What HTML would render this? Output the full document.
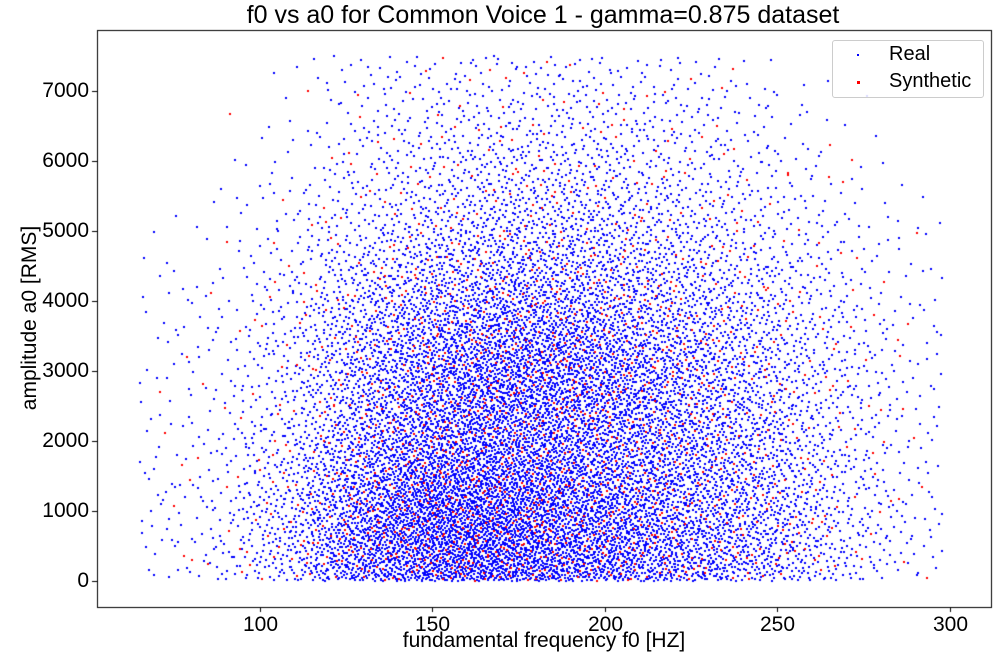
<!DOCTYPE html>
<html><head><meta charset="utf-8">
<style>
body{margin:0;background:#fff;width:999px;height:657px;overflow:hidden;font-family:"Liberation Sans","DejaVu Sans",sans-serif;}
#wrap{position:relative;width:999px;height:657px;}
canvas{position:absolute;left:0;top:0;}
.t{position:absolute;color:#000;white-space:nowrap;}
</style></head>
<body>
<div id="wrap">
<canvas id="c" width="999" height="657"></canvas>
<div class="t" style="left:0;width:1086px;top:1px;text-align:center;font-size:25px;">f0 vs a0 for Common Voice 1 - gamma=0.875 dataset</div>
<div class="t" style="left:97px;width:894px;top:629px;text-align:center;font-size:21px;">fundamental frequency f0 [HZ]</div>
<div class="t" style="left:-80px;top:306px;width:220px;text-align:center;font-size:21px;transform:rotate(-90deg);">amplitude a0 [RMS]</div>
<div id="ticks"></div>
<div style="position:absolute;left:832px;top:40px;width:150px;height:56px;border:1px solid #ccc;border-radius:3px;background:rgba(255,255,255,0.85);">
 <div style="position:absolute;left:0;top:0;width:150px;height:28px;">
  <div style="position:absolute;left:24px;top:13px;width:2px;height:2px;background:#00f;"></div>
  <div class="t" style="left:56px;top:2px;font-size:20px;">Real</div></div>
 <div style="position:absolute;left:0;top:28px;width:150px;height:28px;">
  <div style="position:absolute;left:24px;top:12px;width:3px;height:3px;background:#f00;"></div>
  <div class="t" style="left:56px;top:1px;font-size:20px;">Synthetic</div></div>
</div>
</div>
<script>
// density levels at cell centres (rows: a0 7000-7500 at top down to 0-500; cols: f0 20 Hz bins from 60)
const f0Bins=[60,80,100,120,140,160,180,200,220,240,260,280,300];
const a0Bins=[7500,7000,6500,6000,5500,5000,4500,4000,3500,3000,2500,2000,1500,1000,500,0];
const realDensity=[
[0,0,0.1,0.4,0.6,0.6,0.6,0.5,0.4,0.1,0,0],
[0,0,0.1,0.5,0.8,1,1,0.8,0.6,0.3,0.1,0],
[0,0,0.2,0.6,1,1.3,1.3,1.1,0.8,0.4,0.1,0],
[0,0.05,0.3,0.8,1.3,1.8,1.8,1.4,1,0.6,0.2,0.05],
[0.05,0.1,0.4,1,1.8,2.3,2.3,1.8,1.3,0.8,0.3,0.1],
[0.1,0.15,0.6,1.5,2.5,3,3,2.5,1.8,1,0.4,0.15],
[0.15,0.2,0.8,2.2,3.5,4.2,4,3.2,2.3,1.4,0.6,0.2],
[0.2,0.3,1,3,4.5,5.5,5,4,3,1.8,0.8,0.25],
[0.2,0.3,1.2,3.5,5.5,7,6.5,5,3.5,2,0.9,0.3],
[0.2,0.35,1.3,3.8,6,7.5,7,5.5,3.8,2.2,1,0.3],
[0.2,0.4,1.5,4,6.5,7,6.5,5.5,4,2.5,1,0.3],
[0.25,0.5,1.8,5,7.5,7.5,6.5,5.5,4.2,2.7,1.1,0.35],
[0.3,0.6,2.2,6,9,9,7.5,6,4.5,3,1.2,0.4],
[0.3,0.7,2.5,7,10,10,8,6.5,5,3.2,1.3,0.4],
[0.3,0.7,2.5,6.5,9,9.5,8,6.5,5,3.2,1.3,0.4]];
const pointsPerLevel=[38];
const syntheticShare=[0.1];
const f0Range=[65,298];
const a0Range=[0,7500];
const xTicks=[100,150,200,250,300];
const yTicks=[0,1000,2000,3000,4000,5000,6000,7000];

const L=97,R=991,T=30,B=607;
const xMin=52.8,xMax=311.9,yMin=-371,yMax=7871;
const X=v=>L+(v-xMin)/(xMax-xMin)*(R-L);
const Y=v=>B-(v-yMin)/(yMax-yMin)*(B-T);

const cv=document.getElementById('c'),ctx=cv.getContext('2d');
ctx.fillStyle='#fff';ctx.fillRect(0,0,999,657);
function halton(i,b){let f=1,r=0;while(i>0){f/=b;r+=f*(i%b);i=Math.floor(i/b);}return r;}
const nc=realDensity[0].length,nr=realDensity.length;
function dens(f,a){
 let cx=(f-f0Bins[0])/20-0.5; let ry=(a0Bins[0]-a)/500-0.5;
 cx=Math.max(0,Math.min(nc-1,cx)); ry=Math.max(0,Math.min(nr-1,ry));
 const c0=Math.floor(cx),r0=Math.floor(ry),c1=Math.min(nc-1,c0+1),r1=Math.min(nr-1,r0+1);
 const tx=cx-c0,ty=ry-r0;
 const v0=realDensity[r0][c0]*(1-tx)+realDensity[r0][c1]*tx;
 const v1=realDensity[r1][c0]*(1-tx)+realDensity[r1][c1]*tx;
 return v0*(1-ty)+v1*ty;
}
let maxD=0;realDensity.forEach(r=>r.forEach(v=>maxD=Math.max(maxD,v)));
const cellsArea=((f0Range[1]-f0Range[0])/20)*((a0Range[1]-a0Range[0])/500);
const N=Math.round(cellsArea*maxD*pointsPerLevel[0]);
const real=[],syn=[];
for(let k=1;k<=N;k++){
 const f=f0Range[0]+halton(k,2)*(f0Range[1]-f0Range[0]);
 const a=a0Range[0]+halton(k,3)*(a0Range[1]-a0Range[0]);
 if(halton(k,5)*maxD<dens(f,a)) (halton(k,7)<syntheticShare[0]?syn:real).push([f,a]);
}
function dots(arr,col,s){ctx.fillStyle=col;for(const p of arr){ctx.fillRect(Math.round(X(p[0])-s/2),Math.round(Y(p[1])-s/2),s,s);}}
dots(real,'#0000ff',2);
dots(syn,'#ff0000',2);
ctx.strokeStyle='#000';ctx.lineWidth=1;
ctx.strokeRect(L+0.5,T+0.5,R-L,B-T);
const tk=document.getElementById('ticks');
ctx.beginPath();
xTicks.forEach(v=>{const x=Math.round(X(v))+0.5;ctx.moveTo(x,B);ctx.lineTo(x,B+5);
 const d=document.createElement('div');d.className='t';
 
 
 d.style.cssText=`left:${x-40}px;width:80px;text-align:center;top:${B+6}px;font-size:21px;`;d.textContent=v;tk.appendChild(d);});
yTicks.forEach(v=>{const y=Math.round(Y(v))+0.5;ctx.moveTo(L,y);ctx.lineTo(L-5,y);
 const d=document.createElement('div');d.className='t';
 
 
 d.style.cssText=`left:${L-90}px;width:82px;text-align:right;top:${y-13}px;font-size:21px;`;d.textContent=v;tk.appendChild(d);});
ctx.stroke();
</script>
</body></html>
